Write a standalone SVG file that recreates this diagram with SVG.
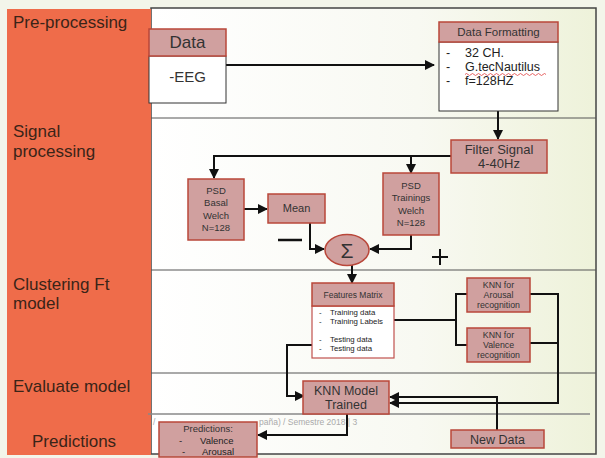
<svg xmlns="http://www.w3.org/2000/svg" width="605" height="458" viewBox="0 0 605 458">
<defs>
<linearGradient id="bg" x1="0" y1="0" x2="1" y2="0">
<stop offset="0" stop-color="#ffffff"/>
<stop offset="0.6" stop-color="#f8f9f2"/>
<stop offset="1" stop-color="#eef2da"/>
</linearGradient>
<marker id="ah" viewBox="0 0 10 10" refX="9" refY="5" markerWidth="5" markerHeight="5" orient="auto">
<path d="M0,0 L10,5 L0,10 z" fill="#111"/>
</marker>
<style>
.lbl{font-family:"Liberation Sans",Arial,sans-serif;fill:#3a2418;font-size:17px}
.t{font-family:"Liberation Sans",Arial,sans-serif;fill:#333;text-anchor:middle}
.tl{font-family:"Liberation Sans",Arial,sans-serif;fill:#222}
.nd{fill:#d0a09f;stroke:#b9473a;stroke-width:1.5}
.wb{fill:#ffffff;stroke:#333;stroke-width:1}
.wr{fill:#ffffff;stroke:#c0504d;stroke-width:1.2}
.c{fill:none;stroke:#111;stroke-width:2}
.row{stroke:#555;stroke-width:1;fill:none}
.ft{font-family:"Liberation Sans",Arial,sans-serif;font-size:8.5px;fill:#aaa}
</style>
</defs>
<rect x="0" y="0" width="605" height="458" fill="#f3f5ea"/>
<rect x="151" y="8" width="445" height="446" fill="url(#bg)" stroke="#444" stroke-width="1.5"/>
<rect x="7" y="9" width="144" height="446" fill="#ef6c4a"/>
<line class="row" x1="151" y1="118" x2="596" y2="118"/>
<line class="row" x1="151" y1="270" x2="596" y2="270"/>
<line class="row" x1="151" y1="373" x2="596" y2="373"/>
<line x1="148" y1="414" x2="590" y2="414" stroke="#888" stroke-width="1.5"/>
<text class="ft" x="153" y="425">/</text>
<text class="ft" x="259" y="425">paña) / Semestre 2018 | 3</text>

<g id="labels">
<text class="lbl" x="13" y="28">Pre-processing</text>
<text class="lbl" x="13" y="137">Signal</text>
<text class="lbl" x="13" y="157">processing</text>
<text class="lbl" x="13" y="290">Clustering Ft</text>
<text class="lbl" x="13" y="309">model</text>
<text class="lbl" x="13" y="392">Evaluate model</text>
<text class="lbl" x="32" y="447">Predictions</text>
</g>

<g id="connectors">
<line class="c" x1="226" y1="65" x2="434" y2="65" marker-end="url(#ah)"/>
<line class="c" x1="498" y1="111" x2="498" y2="139" marker-end="url(#ah)"/>
<polyline class="c" points="451,156 214,156 214,178" marker-end="url(#ah)"/>
<line class="c" x1="411" y1="156" x2="411" y2="173" marker-end="url(#ah)"/>
<line class="c" x1="244" y1="209" x2="267" y2="209" marker-end="url(#ah)"/>
<polyline class="c" points="296,222 310,222 310,249 324,249" marker-end="url(#ah)"/>
<polyline class="c" points="411,235 411,249 370,249" marker-end="url(#ah)"/>
<line class="c" x1="352" y1="265" x2="352" y2="283" marker-end="url(#ah)"/>
<polyline class="c" points="383,320 456,320"/>
<polyline class="c" points="467,294 456,294 456,345 467,345"/>
<polyline class="c" points="318,345 287,345 287,396 304,396" marker-end="url(#ah)"/>
<polyline class="c" points="530,294 558,294 558,403 390,403" marker-end="url(#ah)"/>
<line class="c" x1="530" y1="343" x2="558" y2="343"/>
<polyline class="c" points="497,430 497,397 390,397" marker-end="url(#ah)"/>
<polyline class="c" points="347,414 347,435 258,435" marker-end="url(#ah)"/>
<path d="M378,308 H382 V332 H378" class="c"/>
<path d="M322,341 H318 V356 H322" class="c"/>
<line x1="278" y1="240" x2="302" y2="240" stroke="#111" stroke-width="2.5"/>
<path d="M432,257 H448 M440,249 V265" stroke="#111" stroke-width="2" fill="none"/>
</g>

<g id="data">
<rect class="wb" x="149" y="56" width="77" height="47"/>
<rect class="nd" x="149" y="29" width="77" height="27"/>
<text class="t" x="187.5" y="48" font-size="17">Data</text>
<text class="t" x="187.5" y="82" font-size="15">-EEG</text>
</g>

<g id="data-formatting">
<rect class="wb" x="439" y="42" width="119" height="69"/>
<rect class="nd" x="439" y="22" width="119" height="20"/>
<text class="t" x="498.5" y="36" font-size="11.5">Data Formatting</text>
<text class="tl" font-size="12.5">
<tspan x="446" y="57">-</tspan><tspan x="465" y="57">32 CH.</tspan>
<tspan x="446" y="71">-</tspan><tspan x="465" y="71">G.tecNautilus</tspan>
<tspan x="446" y="85">-</tspan><tspan x="465" y="85">f=128HZ</tspan>
</text>
<path d="M465,74.5 q1.5,-2 3,0 t3,0 t3,0 t3,0 t3,0 t3,0 t3,0 t3,0 t3,0 t3,0 t3,0 t3,0 t3,0 t3,0 t3,0 t3,0 t3,0 t3,0 t3,0 t3,0 t3,0 t3,0 t3,0 t3,0 t3,0 t3,0 t3,0" fill="none" stroke="#e04040" stroke-width="0.8"/>
</g>

<g id="filter-signal">
<rect class="nd" x="451" y="140" width="96" height="33"/>
<text class="t" x="499" y="154" font-size="13">Filter Signal</text>
<text class="t" x="499" y="168" font-size="13">4-40Hz</text>
</g>

<g id="psd-basal">
<rect class="nd" x="188" y="179" width="56" height="61"/>
<text class="t" font-size="9.5"><tspan x="216" y="194">PSD</tspan><tspan x="216" y="206">Basal</tspan><tspan x="216" y="219">Welch</tspan><tspan x="216" y="231">N=128</tspan></text>
</g>

<g id="psd-trainings">
<rect class="nd" x="383" y="173" width="56" height="62"/>
<text class="t" font-size="9.5"><tspan x="411" y="189">PSD</tspan><tspan x="411" y="201">Trainings</tspan><tspan x="411" y="214">Welch</tspan><tspan x="411" y="226">N=128</tspan></text>
</g>

<g id="mean">
<rect class="nd" x="268" y="194" width="57" height="29"/>
<text class="t" x="296.5" y="212" font-size="11">Mean</text>
</g>

<g id="sum">
<ellipse class="nd" cx="347" cy="250" rx="22" ry="15.5"/>
<text class="t" x="347" y="258" font-size="21">Σ</text>
</g>

<g id="features-matrix">
<rect class="wr" x="312" y="306" width="82" height="52"/>
<rect class="nd" x="312" y="283" width="82" height="23"/>
<text class="t" x="353" y="298" font-size="8.5">Features Matrix</text>
<text class="tl" font-size="7.8">
<tspan x="319" y="315">-</tspan><tspan x="330" y="315">Training data</tspan>
<tspan x="319" y="324">-</tspan><tspan x="330" y="324">Training Labels</tspan>
<tspan x="319" y="342">-</tspan><tspan x="330" y="342">Testing data</tspan>
<tspan x="319" y="351">-</tspan><tspan x="330" y="351">Testing data</tspan>
</text>
</g>

<g id="knn-arousal">
<rect class="nd" x="467" y="278" width="63" height="34"/>
<text class="t" font-size="8.8"><tspan x="498.5" y="288">KNN for</tspan><tspan x="498.5" y="298">Arousal</tspan><tspan x="498.5" y="308">recognition</tspan></text>
</g>

<g id="knn-valence">
<rect class="nd" x="467" y="328" width="63" height="34"/>
<text class="t" font-size="8.8"><tspan x="498.5" y="338">KNN for</tspan><tspan x="498.5" y="348">Valence</tspan><tspan x="498.5" y="358">recognition</tspan></text>
</g>

<g id="knn-model">
<rect class="nd" x="303" y="381" width="86" height="33"/>
<text class="t" x="346" y="395" font-size="12.5">KNN Model</text>
<text class="t" x="346" y="409" font-size="12.5">Trained</text>
</g>

<g id="new-data">
<rect class="nd" x="451" y="430" width="93" height="18"/>
<text class="t" x="497.5" y="443.5" font-size="12.5">New Data</text>
</g>

<g id="predictions">
<rect class="nd" x="159" y="422" width="98" height="35"/>
<text class="t" x="208" y="432" font-size="9.5">Predictions:</text>
<text class="tl" font-size="9.5">
<tspan x="179" y="444">-</tspan><tspan x="200" y="444">Valence</tspan>
<tspan x="182" y="455">-</tspan><tspan x="202" y="455">Arousal</tspan>
</text>
</g>
</svg>
